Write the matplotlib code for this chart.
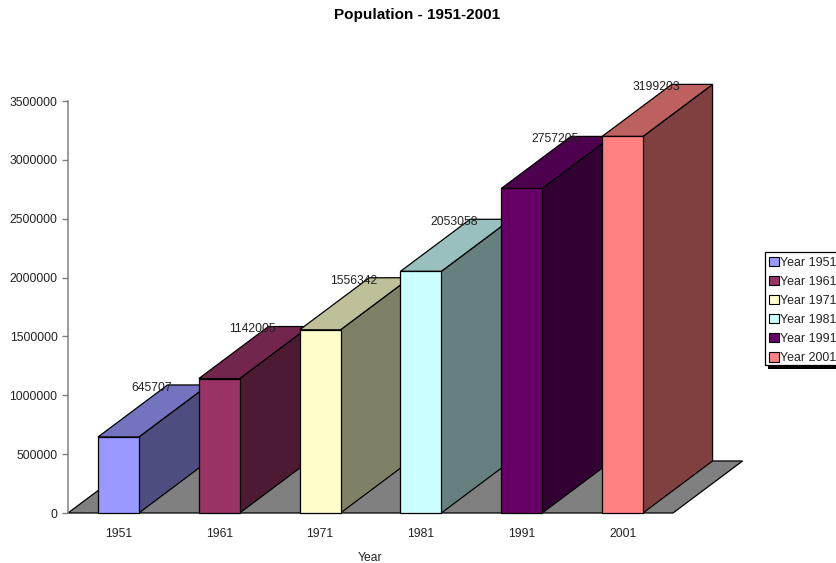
import matplotlib
matplotlib.use("Agg")
import matplotlib.pyplot as plt
from matplotlib.patches import Patch, Polygon, Rectangle

plt.rcParams['font.family'] = ['Liberation Sans', 'DejaVu Sans']

years = ['1951', '1961', '1971', '1981', '1991', '2001']
population = [645707, 1142005, 1556342, 2053058, 2757205, 3199203]
front_colors = ['#9999ff', '#993366', '#ffffcc', '#ccffff', '#660066', '#ff8080']
y_ticks = [0, 500000, 1000000, 1500000, 2000000, 2500000, 3000000, 3500000]

# 3d look: how far the back face is shifted, in axis units
depth_x = 0.69
depth_y = 442000
bar_width = 0.405
text_color = '#222222'


def shade(color, factor):
    rgb = matplotlib.colors.to_rgb(color)
    return tuple(c * factor for c in rgb)


def add_poly(ax, points, color, z):
    ax.add_patch(Polygon(points, closed=True, facecolor=color, edgecolor='black',
                         linewidth=0.9, joinstyle='miter', clip_on=False, zorder=z))


W, H = 836, 563
fig = plt.figure(figsize=(W / 100, H / 100), dpi=100)
ax = fig.add_axes([68 / W, 1 - 513 / H, 605 / W, 412 / H])
ax.set_xlim(-0.5, 5.5)
ax.set_ylim(0, 3500000)

# floor
add_poly(ax, [(-0.5, 0), (5.5, 0), (5.5 + depth_x, depth_y), (-0.5 + depth_x, depth_y)], '#808080', 1)

for i, (value, color) in enumerate(zip(population, front_colors)):
    left = i - bar_width / 2
    right = i + bar_width / 2
    z = 2 + i
    # side face, top face, front face
    add_poly(ax, [(right, 0), (right + depth_x, depth_y), (right + depth_x, value + depth_y), (right, value)],
             shade(color, 0.5), z)
    add_poly(ax, [(left, value), (right, value), (right + depth_x, value + depth_y), (left + depth_x, value + depth_y)],
             shade(color, 0.75), z)
    add_poly(ax, [(left, 0), (right, 0), (right, value), (left, value)], color, z)

for i, value in enumerate(population):
    ax.text(i + depth_x / 2 - 0.012, value + depth_y - 25000, str(value), ha='center', va='center',
            fontsize=8.7, color=text_color, zorder=20, clip_on=False)

for name in ['top', 'right']:
    ax.spines[name].set_visible(False)
ax.spines['left'].set_color('#808080')
ax.spines['left'].set_linewidth(1.1)
ax.spines['left'].set_zorder(10)
ax.spines['bottom'].set_visible(False)

ax.set_yticks(y_ticks)
ax.set_yticklabels([str(t) for t in y_ticks], fontsize=8.7, color=text_color)
ax.tick_params(axis='y', length=4.5, width=1, color='#808080', pad=3)
ax.set_xticks(range(len(years)))
ax.set_xticklabels(years, fontsize=8.7, color=text_color)
ax.tick_params(axis='x', length=0, pad=10.5)
ax.set_xlabel('Year', fontsize=8.7, color=text_color, labelpad=9)

fig.text(417 / W, 1 - 15 / H, 'Population - 1951-2001', ha='center', va='center',
         fontsize=11, fontweight='bold', color='black')

# legend box with its shadow, it runs past the right edge of the figure
fig.add_artist(Rectangle((768 / W, 1 - 368.5 / H), 80 / W, 113 / H, transform=fig.transFigure,
                         facecolor='black', edgecolor='none'))
fig.add_artist(Rectangle((765 / W, 1 - 365 / H), 80 / W, 113 / H, transform=fig.transFigure,
                         facecolor='white', edgecolor='black', linewidth=0.9))

handles = [Patch(facecolor=c, edgecolor='black', linewidth=0.8) for c in front_colors]
labels = ['Year ' + y for y in years]
leg = fig.legend(handles, labels, loc='upper left', bbox_to_anchor=(765 / W, 1 - 253 / H),
                 fontsize=8.9, frameon=False,
                 borderpad=0.3, labelspacing=0.57, handlelength=0.8, handleheight=0.8,
                 handletextpad=0.08, borderaxespad=0)
for t in leg.get_texts():
    t.set_color(text_color)

fig.savefig('out.png', dpi=100)
